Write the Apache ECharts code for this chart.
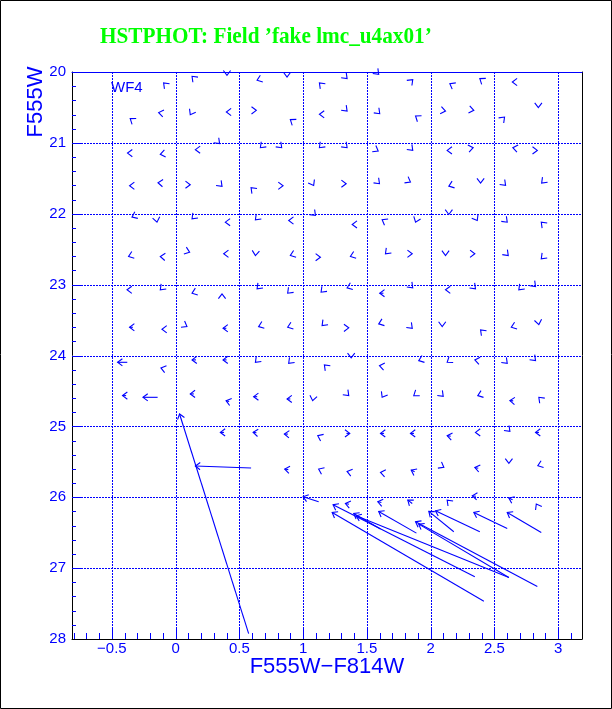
<!DOCTYPE html>
<html><head><meta charset="utf-8">
<script src="https://cdn.jsdelivr.net/npm/echarts@6/dist/echarts.min.js"></script>
<style>html,body{margin:0;padding:0;background:#fff}#c{width:612px;height:709px}</style>
</head><body><div id="c"></div><script>
// ---- axis ticks ----
const xMajor = [-0.5, 0, 0.5, 1, 1.5, 2, 2.5, 3];
const xMajorLabels = ['\u22120.5', '0', '0.5', '1', '1.5', '2', '2.5', '3'];
const xMinor = [-0.8,-0.7,-0.6,-0.4,-0.3,-0.2,-0.1,0.1,0.2,0.3,0.4,0.6,0.7,0.8,0.9,1.1,1.2,1.3,1.4,1.6,1.7,1.8,1.9,2.1,2.2,2.3,2.4,2.6,2.7,2.8,2.9,3.1];
const yMajor = [20, 21, 22, 23, 24, 25, 26, 27, 28];
const yMajorLabels = ['20', '21', '22', '23', '24', '25', '26', '27', '28'];
const yMinor = [20.2,20.4,20.6,20.8,21.2,21.4,21.6,21.8,22.2,22.4,22.6,22.8,23.2,23.4,23.6,23.8,24.2,24.4,24.6,24.8,25.2,25.4,25.6,25.8,26.2,26.4,26.6,26.8,27.2,27.4,27.6,27.8];

// ---- arrowheads with negligible shift (colour, magnitude, direction in degrees on screen) ----
const headX = [
-0.094,0.129,0.403,0.639,0.874,1.128,1.345,1.593,1.860,2.151,2.386,2.641,
-0.356,-0.133,0.115,0.398,0.633,0.900,1.128,1.345,1.601,1.882,2.117,2.339,2.580,2.845,
-0.377,-0.120,0.155,0.345,0.665,0.832,1.128,1.345,1.589,1.860,2.130,2.334,2.645,2.837,
-0.361,-0.138,0.115,0.364,0.592,0.843,1.083,1.338,1.599,1.842,2.143,2.392,2.588,2.871,
-0.342,-0.146,0.129,0.390,0.626,0.887,1.097,1.385,1.620,1.882,2.143,2.366,2.601,2.868,
-0.369,-0.120,0.110,0.377,0.626,0.900,1.136,1.371,1.646,1.856,2.117,2.347,2.609,2.868,
-0.381,-0.120,0.129,0.364,0.639,0.879,1.141,1.345,1.860,2.117,2.352,2.692,2.823,
-0.107,0.089,0.651,0.879,1.149,1.358,1.593,1.856,2.091,2.392,2.633,2.849,
-0.115,0.626,0.887,1.167,1.377,1.599,1.907,2.130,2.347,2.601,2.823,
1.075,1.358,1.620,1.868,2.099,2.370,2.849,
1.115,2.352,2.622,
1.122,1.345,1.607,2.104,2.614,2.841,
2.130,2.829];
const headY = [
20.155,20.061,20.047,20.117,20.071,20.155,20.093,20.032,20.107,20.164,20.093,20.141,
20.658,20.573,20.602,20.565,20.541,20.672,20.597,20.551,20.588,20.621,20.551,20.541,20.636,20.503,
21.144,21.162,21.096,21.011,21.068,21.068,21.068,21.068,21.116,21.106,21.106,21.068,21.068,21.106,
21.605,21.562,21.590,21.614,21.633,21.605,21.600,21.576,21.576,21.554,21.610,21.568,21.600,21.568,
22.048,22.119,22.071,22.119,22.085,22.095,22.024,22.151,22.085,22.119,22.010,22.095,22.119,22.119,
22.603,22.603,22.542,22.565,22.589,22.589,22.613,22.603,22.565,22.565,22.589,22.565,22.589,22.636,
23.073,23.073,23.121,23.130,23.059,23.121,23.107,23.045,23.045,23.073,23.059,23.073,23.027,
23.630,23.592,23.592,23.602,23.578,23.610,23.554,23.616,23.592,23.638,23.602,23.564,
24.175,24.096,24.110,24.133,24.034,24.143,24.072,24.096,24.062,24.110,24.072,
24.637,24.566,24.590,24.566,24.576,24.566,24.590,
25.131,25.085,25.071,
25.602,25.636,25.650,25.579,25.523,25.555,
26.040,26.096];
const headDir = [
225,225,90,160,90,225,45,45,315,210,215,180,
215,190,120,180,0,215,180,45,45,215,10,10,315,90,
180,170,180,45,135,45,135,45,30,45,180,350,190,0,
180,185,0,45,225,0,60,0,45,30,160,90,45,135,
155,80,135,180,135,180,45,180,210,110,90,60,45,225,
160,185,20,180,95,160,0,160,135,0,90,0,45,135,
180,135,160,270,135,135,135,160,45,180,45,135,45,
180,30,160,160,135,0,160,45,90,225,160,80,
195,135,135,225,90,190,160,145,190,45,45,
100,45,120,145,45,160,225,
205,180,45,
205,195,190,30,90,160,
225,240];

// ---- visible shift vectors: input (tail) -> output (tip) ----
const vecTailX = [1.630,-0.335,0.398,-0.379,0.160,0.400,-0.388,-0.141,0.143,0.420,0.640,0.900,2.648,
  0.380,0.634,0.880,1.340,1.635,1.870,2.158,2.850,0.884,1.875,2.374,1.360,1.614,1.856,2.355,2.643,
  0.592,1.122,0.573,2.347,2.418,1.607,1.889,2.837,2.614,2.182,2.386,2.601,2.868,2.614];
const vecTailY = [23.121,23.602,23.616,24.096,24.062,24.062,24.566,24.590,24.542,24.650,24.581,24.613,24.640,
  25.085,25.090,25.110,25.099,25.099,25.099,25.140,25.085,25.610,25.640,25.590,26.100,26.075,26.088,25.985,26.035,
  25.588,26.064,27.924,27.123,27.466,26.449,26.506,27.260,27.133,26.487,26.487,26.441,26.497,27.133];
const vecTipX = [1.601,-0.361,0.372,-0.455,0.129,0.372,-0.416,-0.256,0.115,0.396,0.612,0.874,2.622,
  0.351,0.608,0.853,1.366,1.607,1.842,2.130,2.823,0.856,1.848,2.347,1.332,1.586,1.821,2.327,2.614,
  0.155,1.000,0.031,1.235,1.228,1.397,1.593,1.882,1.907,1.986,2.038,2.339,2.601,1.416];
const vecTipY = [23.121,23.602,23.616,24.096,24.062,24.062,24.566,24.590,24.542,24.637,24.581,24.613,24.637,
  25.085,25.085,25.107,25.099,25.099,25.099,25.131,25.085,25.602,25.616,25.579,26.088,26.064,26.040,25.979,26.011,
  25.559,25.993,24.825,26.106,26.215,26.229,26.200,26.346,26.379,26.200,26.191,26.215,26.215,26.261];

const BLUE = '#0000ff';
const TICKFONT = '15px "Liberation Sans", Arial, sans-serif';
const X_MIN = -0.8125, X_MAX = 3.1875, Y_MIN = 20, Y_MAX = 28;
const HEAD_LEN = 6, HEAD_ANG = 37 * Math.PI / 180;
const DASH = [2, 1];

function headPoints(tx, ty, ang) {
  const a1 = ang + Math.PI - HEAD_ANG, a2 = ang + Math.PI + HEAD_ANG;
  return [[tx + HEAD_LEN * Math.cos(a1), ty + HEAD_LEN * Math.sin(a1)], [tx, ty],
          [tx + HEAD_LEN * Math.cos(a2), ty + HEAD_LEN * Math.sin(a2)]];
}
const arrowStyle = { stroke: BLUE, lineWidth: 1.1, fill: null };

const chart = echarts.init(document.getElementById('c'));
chart.setOption({
  animation: false,
  backgroundColor: '#ffffff',
  grid: { left: 72, top: 72, width: 510, height: 567 },
  xAxis: [
    { type: 'value', min: X_MIN, max: X_MAX, position: 'bottom',
      axisLine: { show: true, onZero: false, lineStyle: { color: '#000', width: 1 } },
      axisTick: { show: false }, axisLabel: { show: false }, splitLine: { show: false } },
    { type: 'value', min: X_MIN, max: X_MAX, position: 'top',
      axisLine: { show: true, onZero: false, lineStyle: { color: BLUE, width: 1 } },
      axisTick: { show: false }, axisLabel: { show: false }, splitLine: { show: false } }
  ],
  yAxis: [
    { type: 'value', min: Y_MIN, max: Y_MAX, inverse: true, position: 'left',
      axisLine: { show: true, onZero: false, lineStyle: { color: '#000', width: 1 } },
      axisTick: { show: false }, axisLabel: { show: false }, splitLine: { show: false } },
    { type: 'value', min: Y_MIN, max: Y_MAX, inverse: true, position: 'right',
      axisLine: { show: true, onZero: false, lineStyle: { color: '#000', width: 1 } },
      axisTick: { show: false }, axisLabel: { show: false }, splitLine: { show: false } }
  ],
  series: [
    { // x major: grid lines, ticks, labels
      type: 'custom', clip: false, silent: true, z: 1,
      data: xMajor.map((v, i) => [v, Y_MAX, i]),
      renderItem: function (params, api) {
        const v = api.value(0), i = api.value(2);
        const b = api.coord([v, Y_MAX]), t = api.coord([v, Y_MIN]);
        const x = Math.round(b[0]) + 0.5;
        return { type: 'group', children: [
          { type: 'line', shape: { x1: x, y1: Math.round(t[1]), x2: x, y2: Math.round(b[1]) },
            style: { stroke: BLUE, lineWidth: 1, lineDash: DASH } },
          { type: 'line', shape: { x1: x, y1: b[1], x2: x, y2: b[1] - 10 },
            style: { stroke: BLUE, lineWidth: 1 } },
          { type: 'text', x: b[0], y: b[1] + 10,
            style: { text: xMajorLabels[i], fill: BLUE, font: TICKFONT,
              align: 'center', verticalAlign: 'middle', textAlign: 'center', textVerticalAlign: 'middle' } }
        ] };
      }
    },
    { // x minor ticks
      type: 'custom', clip: false, silent: true, z: 1,
      data: xMinor.map(v => [v, Y_MAX]),
      renderItem: function (params, api) {
        const b = api.coord([api.value(0), Y_MAX]);
        const x = Math.round(b[0]) + 0.5;
        return { type: 'line', shape: { x1: x, y1: b[1], x2: x, y2: b[1] - 6 },
          style: { stroke: BLUE, lineWidth: 1 } };
      }
    },
    { // y major
      type: 'custom', clip: false, silent: true, z: 1,
      data: yMajor.map((v, i) => [X_MIN, v, i]),
      renderItem: function (params, api) {
        const v = api.value(1), i = api.value(2);
        const l = api.coord([X_MIN, v]), r = api.coord([X_MAX, v]);
        const y = Math.round(l[1]) + 0.5;
        const ch = [];
        if (v > Y_MIN && v < Y_MAX) {
          ch.push({ type: 'line', shape: { x1: Math.round(l[0]), y1: y, x2: Math.round(r[0]), y2: y },
            style: { stroke: BLUE, lineWidth: 1, lineDash: DASH } });
          ch.push({ type: 'line', shape: { x1: l[0], y1: y, x2: l[0] + 9, y2: y },
            style: { stroke: BLUE, lineWidth: 1 } });
        }
        ch.push({ type: 'text', x: l[0] - 6, y: l[1],
          style: { text: yMajorLabels[i], fill: BLUE, font: TICKFONT,
            align: 'right', verticalAlign: 'middle', textAlign: 'right', textVerticalAlign: 'middle' } });
        return { type: 'group', children: ch };
      }
    },
    { // y minor ticks
      type: 'custom', clip: false, silent: true, z: 1,
      data: yMinor.map(v => [X_MIN, v]),
      renderItem: function (params, api) {
        const l = api.coord([X_MIN, api.value(1)]);
        const y = Math.round(l[1]) + 0.5;
        return { type: 'line', shape: { x1: l[0], y1: y, x2: l[0] + 4, y2: y },
          style: { stroke: BLUE, lineWidth: 1 } };
      }
    },
    { // arrowheads of near-zero shifts
      type: 'custom', clip: false, silent: true, z: 3,
      data: headX.map((x, i) => [x, headY[i], headDir[i]]),
      encode: { x: 0, y: 1 },
      renderItem: function (params, api) {
        const p = api.coord([api.value(0), api.value(1)]);
        const ang = api.value(2) * Math.PI / 180;
        return { type: 'polyline', shape: { points: headPoints(p[0], p[1], ang) }, style: arrowStyle };
      }
    },
    { // visible shift vectors
      type: 'custom', clip: false, silent: true, z: 3,
      data: vecTipX.map((x, i) => [x, vecTipY[i], vecTailX[i], vecTailY[i]]),
      encode: { x: [0, 2], y: [1, 3] },
      renderItem: function (params, api) {
        const tip = api.coord([api.value(0), api.value(1)]);
        const tail = api.coord([api.value(2), api.value(3)]);
        const ang = Math.atan2(tip[1] - tail[1], tip[0] - tail[0]);
        return { type: 'group', children: [
          { type: 'line', shape: { x1: tail[0], y1: tail[1], x2: tip[0], y2: tip[1] }, style: arrowStyle },
          { type: 'polyline', shape: { points: headPoints(tip[0], tip[1], ang) }, style: arrowStyle }
        ] };
      }
    }
  ],
  graphic: [
    { type: 'rect', shape: { x: 0.5, y: 0.5, width: 611, height: 708 },
      style: { stroke: '#000', fill: null, lineWidth: 1 }, z: 100 },
    { type: 'text', x: 100, y: 37, scaleX: 0.885,
      style: { text: 'HSTPHOT: Field \u2019fake lmc_u4ax01\u2019', fill: '#00ff00',
        font: 'bold 24px "Liberation Serif", "Times New Roman", serif', align: 'left', verticalAlign: 'middle' } },
    { type: 'text', x: 327, y: 667,
      style: { text: 'F555W\u2212F814W', fill: BLUE,
        font: '22px "Liberation Sans", Arial, sans-serif', align: 'center', verticalAlign: 'middle' } },
    { type: 'text', x: 36, y: 102, rotation: Math.PI / 2,
      style: { text: 'F555W', fill: BLUE,
        font: '22px "Liberation Sans", Arial, sans-serif', align: 'center', verticalAlign: 'middle' } },
    { type: 'text', x: 111, y: 88,
      style: { text: 'WF4', fill: BLUE,
        font: '15px "Liberation Sans", Arial, sans-serif', align: 'left', verticalAlign: 'middle' } }
  ]
});
</script></body></html>
